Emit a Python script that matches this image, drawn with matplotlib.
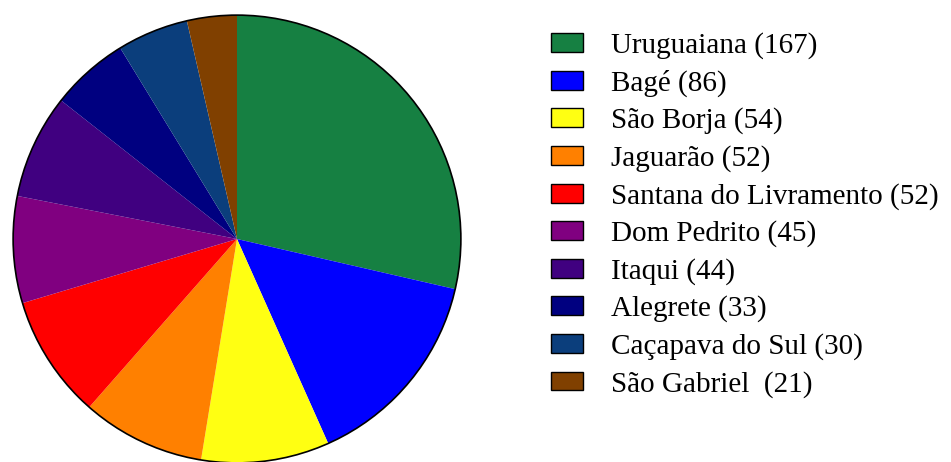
import matplotlib.pyplot as plt
from matplotlib.patches import Circle

cities = ["Uruguaiana", "Bagé", "São Borja", "Jaguarão", "Santana do Livramento",
          "Dom Pedrito", "Itaqui", "Alegrete", "Caçapava do Sul", "São Gabriel "]
counts = [167, 86, 54, 52, 52, 45, 44, 33, 30, 21]
colors = ["#168042", "#0000ff", "#ffff12", "#ff8000", "#ff0000",
          "#800080", "#400080", "#000080", "#0b3e7c", "#804000"]

plt.rcParams['font.family'] = ['Liberation Serif', 'DejaVu Serif']

fig = plt.figure(figsize=(9.51, 4.62), dpi=100)
ax = fig.add_axes([12 / 951, -2 / 462, 450 / 951, 450 / 462])

wedges, _ = ax.pie(counts, colors=colors, startangle=90, counterclock=False,
                   radius=1.0, wedgeprops=dict(linewidth=0))
ax.add_patch(Circle((0, 0), 1.0, fill=False, edgecolor='black', linewidth=1.2))
ax.set_xlim(-1.005, 1.005)
ax.set_ylim(-1.005, 1.005)
ax.set_aspect('equal')

labels = [f"{c} ({n})" for c, n in zip(cities, counts)]
handles = []
for w in wedges:
    h = plt.Rectangle((0, 0), 1, 1, facecolor=w.get_facecolor(), edgecolor='black', linewidth=1.0)
    handles.append(h)

fig.legend(handles, labels, loc='upper left', bbox_to_anchor=(551 / 951, 1 - 32 / 462),
           frameon=False, fontsize=21, handlelength=1.1, handleheight=0.62,
           labelspacing=0.365, handletextpad=0.95, borderaxespad=0, borderpad=0)

fig.savefig("out.png", dpi=100)
